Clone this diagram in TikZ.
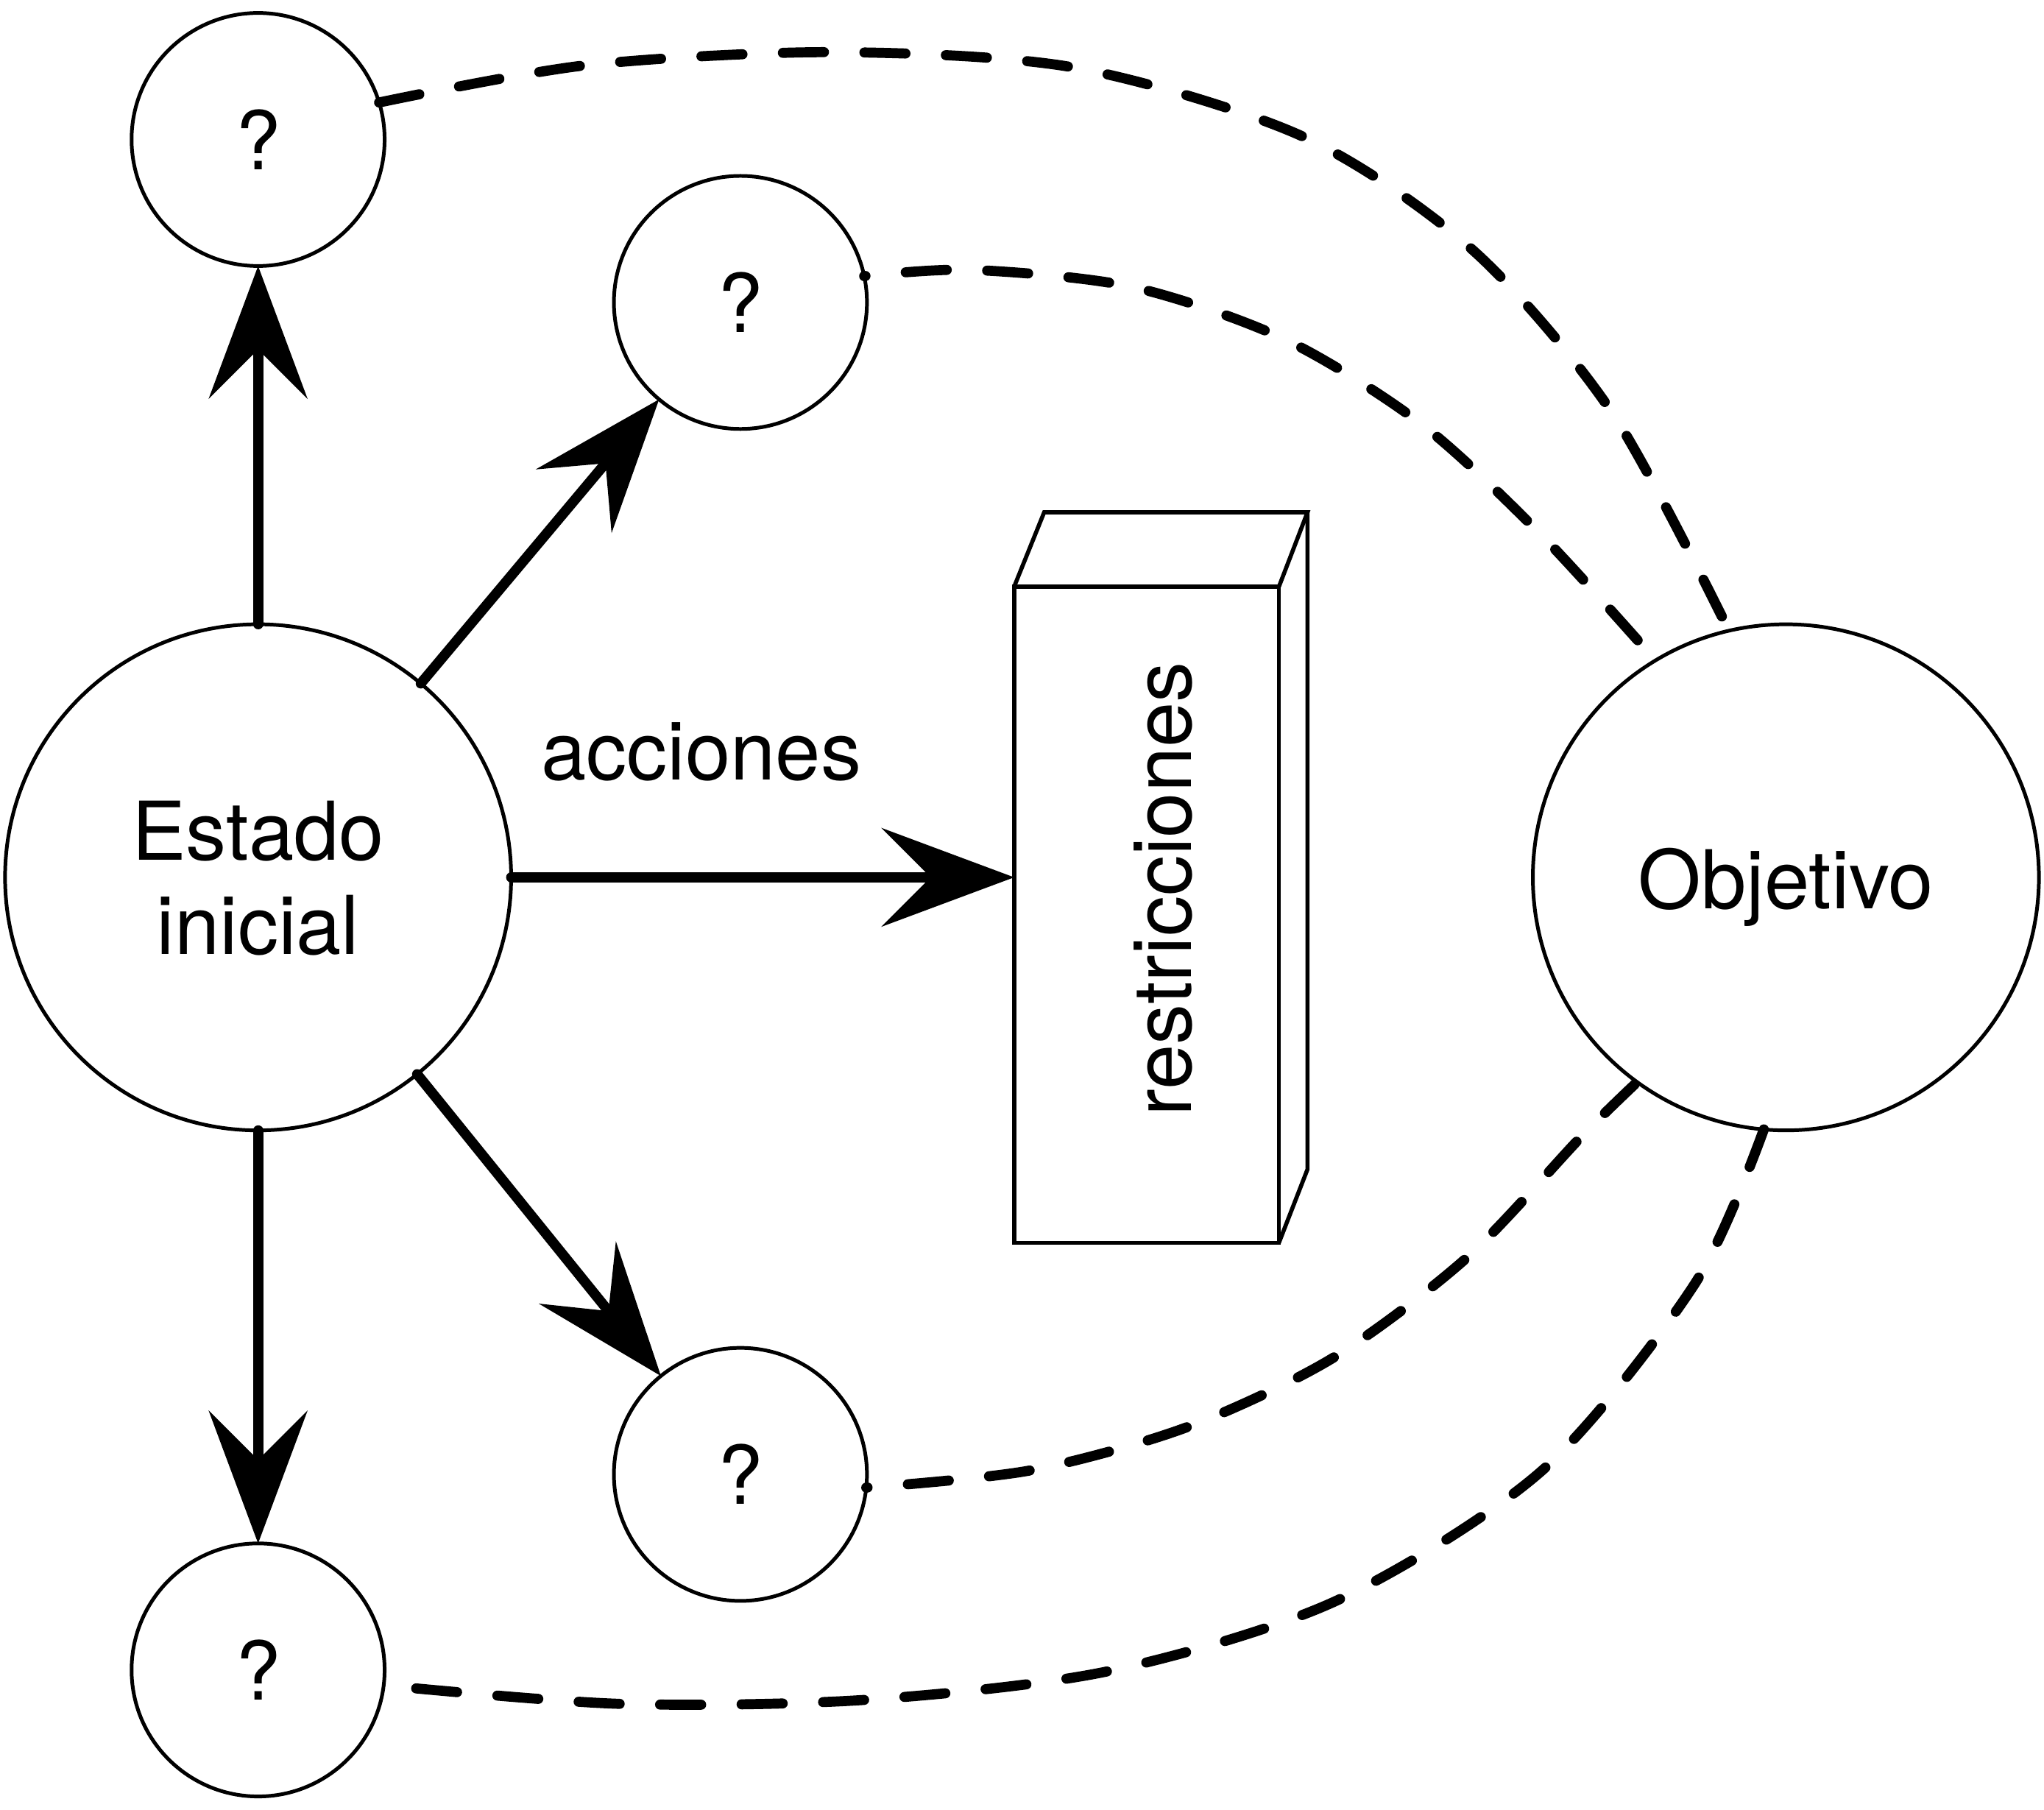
\documentclass[tikz,border=0pt]{standalone}
\usepackage{fontspec}
\setmainfont{TeX Gyre Heros}
\usetikzlibrary{arrows.meta}
\begin{document}
\begin{tikzpicture}[x=0.01cm,y=-0.01cm,
  big/.style={circle,draw,line width=0.8pt,inner sep=0pt,outer sep=0pt,minimum size=3.88cm},
  small/.style={circle,draw,line width=0.8pt,inner sep=0pt,outer sep=0pt,minimum size=1.94cm},
  boxline/.style={line width=0.9pt,line join=miter},
  lbl/.style={font=\fontsize{17.7}{21}\selectfont,inner sep=0pt,outer sep=0pt,anchor=base},
  act/.style={line width=2.2pt,line cap=round,-{Stealth[length=1.02cm,width=0.76cm,inset=0.38cm,line width=0pt]}},
  link/.style={line width=2.2pt,line cap=round,dash pattern=on 0.315cm off 0.31cm}]
\useasboundingbox (0,0) rectangle (1568,1388);
% nodes
\node[big] (est) at (198,673) {};
\node[big] (obj) at (1370,673) {};
\node[small] (q1) at (198,107) {};
\node[small] (q2) at (568,232) {};
\node[small] (q3) at (568,1131) {};
\node[small] (q4) at (198,1281) {};
\node[draw,boxline,minimum width=2.03cm,minimum height=5.03cm,inner sep=0pt,outer sep=0pt,anchor=north west] (box) at (778,450) {};
\coordinate (bk) at (1003,393);
\draw[boxline] (box.north west) -- ++(23,-57) -- (bk) -- (box.north east);
\draw[boxline] (bk) -- ++(0,504) -- (box.south east);
% texts
\node[lbl] (test1) at (198,660) {Estado};
\node[lbl] (test2) at (198,732) {inicial};
\node[lbl] (tobj) at (1370,697) {Objetivo};
\node[lbl] (tq1) at (198,130) {?};
\node[lbl] (tq2) at (568,255) {?};
\node[lbl] (tq3) at (568,1154) {?};
\node[lbl] (tq4) at (198,1304) {?};
\node[lbl] (tacc) at (538,598) {acciones};
\node[lbl,rotate=90] (tres) at (914,682) {restricciones};
% actions
\draw[act] (est) -- (q1);
\draw[act] (est) -- (q2);
\draw[act] (est.east) -- (est.east -| box.west);
\draw[act] (est) -- (q3);
\draw[act] (est) -- (q4);
% dashed links to the goal
\draw[link] plot[smooth] coordinates {(q1.17) (450,50) (640,40) (825,52) (1000,105) (1130,192) (1237,317) (obj.103)};
\draw[link,dash phase=0.305cm] plot[smooth] coordinates {(q2.12) (745,207) (868,220) (985,260) (1090,325) (1182,410) (obj.121)};
\draw[link,dash phase=0.305cm] plot[smooth] coordinates {(q3.354) (790,1128) (910,1095) (1022,1042) (1125,965) (1213,872) (obj.234)};
\draw[link,dash phase=0.375cm] plot[smooth] coordinates {(q4.353) (475,1307) (663,1304) (850,1282) (1025,1228) (1183,1128) (1300,985) (obj.265)};
\end{tikzpicture}
\end{document}
